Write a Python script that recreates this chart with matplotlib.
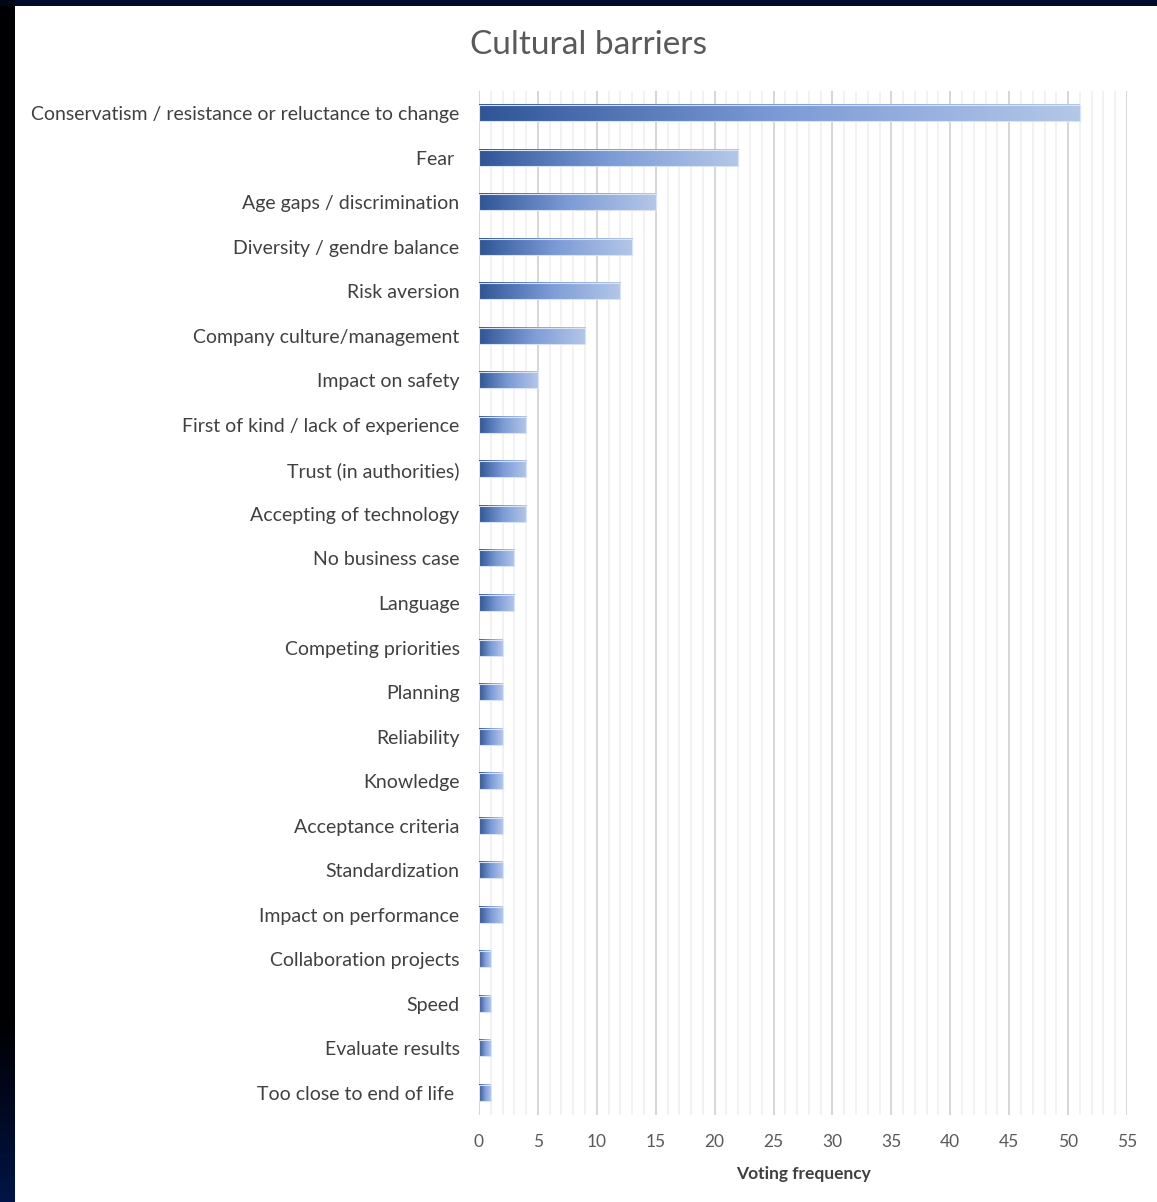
import numpy as np
import matplotlib
matplotlib.use("Agg")
import matplotlib.pyplot as plt
from matplotlib.colors import LinearSegmentedColormap

plt.rcParams['font.family'] = ['Lato', 'DejaVu Sans']

categories = [
    "Conservatism / resistance or reluctance to change",
    "Fear ",
    "Age gaps / discrimination",
    "Diversity / gendre balance",
    "Risk aversion",
    "Company culture/management",
    "Impact on safety",
    "First of kind / lack of experience",
    "Trust (in authorities)",
    "Accepting of technology",
    "No business case",
    "Language",
    "Competing priorities",
    "Planning",
    "Reliability",
    "Knowledge",
    "Acceptance criteria",
    "Standardization",
    "Impact on performance",
    "Collaboration projects",
    "Speed",
    "Evaluate results",
    "Too close to end of life ",
]
votes = [51, 22, 15, 13, 12, 9, 5, 4, 4, 4, 3, 3, 2, 2, 2, 2, 2, 2, 2, 1, 1, 1, 1]
x_ticks = list(range(0, 56, 5))

title = "Cultural barriers"
x_label = "Voting frequency"

W, H, DPI = 1157, 1202, 100
fig = plt.figure(figsize=(W / DPI, H / DPI), dpi=DPI)

# dark slide frame behind the white chart panel
bg = fig.add_axes([0, 0, 1, 1])
bg.set_axis_off()
img = np.ones((H, W, 3))
navy = np.array([0.0, 0.08, 0.28])
top_navy = np.array([0.0, 0.05, 0.17])
img[:6, :, :] = top_navy
rows = np.linspace(0, 1, H)
t = np.clip((rows - 0.84) / 0.16, 0, 1) ** 1.2
left = (1 - t)[:, None] * np.array([0.0, 0.0, 0.01]) + t[:, None] * navy
img[:, :15, :] = left[:, None, :]
img[:6, :15, :] = top_navy * 0.5
bg.imshow(img, extent=[0, 1, 0, 1], aspect='auto', interpolation='bilinear')
bg.set_xlim(0, 1)
bg.set_ylim(0, 1)

ax = fig.add_axes([479 / W, 1 - 1115 / H, 648 / W, 1024 / H])
ax.set_facecolor('none')

n = len(categories)
y = np.arange(n)

# gridlines: light every unit, darker every five
for v in range(0, 56):
    major = v % 5 == 0
    ax.axvline(v, color='#d3d3d3' if major else '#efefef',
               lw=1.3 if major else 1.1, zorder=0)

cmap = LinearSegmentedColormap.from_list('barfade', ['#2f5597', '#7c9bd6', '#b4c7e7'])
grad = np.linspace(0, 1, 256)[None, :]
bar_h = 0.36
bars = ax.barh(y, votes, height=bar_h, color='none', edgecolor='#dae3f3', lw=0.8, zorder=3)
for rect, val in zip(bars, votes):
    yb = rect.get_y()
    ax.imshow(grad, cmap=cmap, extent=[0, val, yb + bar_h, yb], aspect='auto',
              interpolation='bilinear', zorder=2)
ax.set_xlim(0, 55)
ax.set_ylim(n - 0.5, -0.5)

ax.set_yticks(y)
ax.set_yticklabels(categories, fontsize=14, color='#404040')
ax.set_xticks(x_ticks)
ax.set_xticklabels([str(v) for v in x_ticks], fontsize=12.5, color='#595959')
ax.tick_params(axis='y', length=0, pad=14)
ax.tick_params(axis='x', length=0, pad=14)
for s in ax.spines.values():
    s.set_visible(False)

ax.set_xlabel(x_label, fontsize=12.5, color='#404040', fontweight='bold', labelpad=11)
fig.text(588 / W, 1 - 45 / H, title, ha='center', va='center', fontsize=24, color='#595959')

fig.savefig('out.png', dpi=DPI)
